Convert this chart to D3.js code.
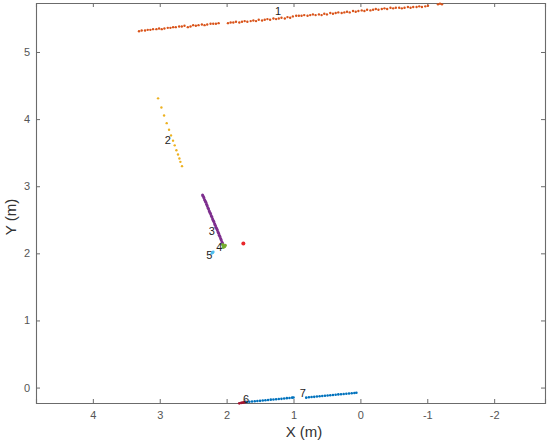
<!DOCTYPE html>
<html>
<head>
<meta charset="utf-8">
<script src="https://cdn.jsdelivr.net/npm/d3@7"></script>
<style>
  body { margin: 0; background: #fff; }
  svg { display: block; font-family: "Liberation Sans", Arial, sans-serif; }
</style>
</head>
<body>
<div id="chart"></div>
<script>
// DATA ===========================================
const xTicks = [4, 3, 2, 1, 0, -1, -2];
const yTicks = [0, 1, 2, 3, 4, 5];

// cluster 1 (orange)
const c1x = [3.31, 3.27, 3.22, 3.18, 3.14, 3.10, 3.05, 3.01, 2.97, 2.93, 2.88, 2.84, 2.80, 2.76, 2.71,
  2.67, 2.63, 2.58, 2.54, 2.50, 2.46, 2.42, 2.37, 2.33, 2.29, 2.24, 2.20, 2.16, 2.12,
  1.98, 1.94, 1.90, 1.86, 1.81, 1.77, 1.73, 1.69, 1.64, 1.60, 1.56, 1.52, 1.47, 1.43, 1.39, 1.35,
  1.30, 1.26, 1.22, 1.18, 1.13, 1.09, 1.05, 1.01, 0.96, 0.92, 0.88, 0.84, 0.79, 0.75, 0.71, 0.67,
  0.62, 0.58, 0.54, 0.50, 0.45, 0.41, 0.37, 0.33, 0.28, 0.24, 0.20, 0.16, 0.11, 0.07, 0.03,
  -0.02, -0.06, -0.10, -0.15, -0.19, -0.23, -0.27, -0.32, -0.36, -0.40, -0.45, -0.49, -0.53,
  -0.58, -0.62, -0.66, -0.71, -0.75, -0.79, -0.84, -0.88, -0.92, -0.97, -1.01, -1.16, -1.19, -1.22];
const c1y = [5.31, 5.32, 5.32, 5.33, 5.33, 5.34, 5.34, 5.35, 5.34, 5.35, 5.36, 5.36, 5.37, 5.37, 5.38,
  5.38, 5.39, 5.37, 5.38, 5.40, 5.39, 5.40, 5.41, 5.40, 5.41, 5.42, 5.42, 5.42, 5.43,
  5.43, 5.44, 5.44, 5.45, 5.44, 5.45, 5.46, 5.45, 5.46, 5.47, 5.46, 5.48, 5.47, 5.48, 5.49, 5.48,
  5.50, 5.49, 5.50, 5.51, 5.50, 5.52, 5.51, 5.53, 5.54, 5.54, 5.54, 5.55, 5.54, 5.55, 5.56, 5.55,
  5.56, 5.55, 5.57, 5.56, 5.58, 5.57, 5.58, 5.59, 5.58, 5.59, 5.60, 5.59, 5.61, 5.60, 5.61,
  5.62, 5.61, 5.63, 5.62, 5.63, 5.64, 5.63, 5.64, 5.65, 5.64, 5.66, 5.65, 5.66,
  5.66, 5.65, 5.66, 5.67, 5.66, 5.67, 5.67, 5.68, 5.67, 5.68, 5.69, 5.71, 5.72, 5.71];

// cluster 2 (yellow)
const c2x = [3.025, 2.975, 2.935, 2.896, 2.861, 2.831, 2.801, 2.776, 2.751, 2.727, 2.706, 2.691, 2.667];
const c2y = [4.309, 4.172, 4.053, 3.940, 3.842, 3.757, 3.679, 3.609, 3.536, 3.472, 3.413, 3.363, 3.299];

// cluster 3 (purple)
const c3x = [2.36, 2.35, 2.34, 2.33, 2.32, 2.31, 2.30, 2.29, 2.28, 2.27, 2.26, 2.25, 2.24, 2.23, 2.22, 2.21,
  2.20, 2.19, 2.18, 2.17, 2.16, 2.15, 2.14, 2.13, 2.12, 2.11, 2.10, 2.09, 2.08, 2.07, 2.06];
const c3y = [2.87, 2.85, 2.83, 2.80, 2.78, 2.76, 2.73, 2.71, 2.68, 2.66, 2.63, 2.61, 2.59, 2.56, 2.54, 2.51,
  2.49, 2.47, 2.44, 2.42, 2.39, 2.37, 2.35, 2.32, 2.30, 2.27, 2.25, 2.22, 2.20, 2.17, 2.15];

// cluster 4 (green)
const c4x = [2.06, 2.04, 2.03, 2.05, 2.02];
const c4y = [2.13, 2.11, 2.10, 2.09, 2.12];

// cluster 5 (light blue)
const c5x = [2.21, 2.20, 2.22];
const c5y = [2.01, 2.02, 2.00];

// cluster 6 (dark red)
const c6x = [1.81, 1.78, 1.76, 1.74, 1.72];
const c6y = [-0.235, -0.228, -0.225, -0.220, -0.215];

// cluster 7 (blue)
const c7x = [1.70, 1.66, 1.62, 1.58, 1.54, 1.50, 1.46, 1.42, 1.38, 1.34, 1.30, 1.26, 1.22, 1.18, 1.14, 1.10,
  1.06, 1.02, 1.00,
  0.81, 0.77, 0.73, 0.69, 0.65, 0.61, 0.57, 0.53, 0.49, 0.45, 0.41, 0.37, 0.33, 0.29, 0.25, 0.21,
  0.17, 0.13, 0.09, 0.06];
const c7y = [-0.215, -0.212, -0.208, -0.205, -0.200, -0.198, -0.192, -0.190, -0.186, -0.180, -0.178,
  -0.175, -0.170, -0.168, -0.163, -0.158, -0.155, -0.150, -0.148,
  -0.150, -0.145, -0.140, -0.138, -0.133, -0.130, -0.126, -0.122, -0.118, -0.115, -0.110, -0.106,
  -0.102, -0.100, -0.095, -0.092, -0.088, -0.084, -0.080, -0.078];

// single red marker
const markerX = [1.75];
const markerY = [2.145];

// cluster number labels
const labelText = ["1", "2", "3", "4", "5", "6", "7"];
const labelX = [1.23, 2.88, 2.22, 2.11, 2.26, 1.71, 0.86];
const labelY = [5.61, 3.69, 2.33, 2.09, 1.97, -0.17, -0.08];

// SETUP ==========================================
const width = 550, height = 440;
const margin = { top: 3, right: 5, bottom: 37, left: 36 };

const svg = d3.select("#chart")
  .append("svg")
  .attr("width", width)
  .attr("height", height);

const xScale = d3.scaleLinear()
  .domain([4.85, -2.76])
  .range([margin.left, width - margin.right]);

const yScale = d3.scaleLinear()
  .domain([-0.23, 5.73])
  .range([height - margin.bottom, margin.top]);

const axisColor = "#6b6b6b";
const fmt = d => String(d);

// AXES ===========================================
const gx = svg.append("g")
  .attr("transform", `translate(0, ${height - margin.bottom})`)
  .call(d3.axisBottom(xScale).tickValues(xTicks).tickSize(-4).tickPadding(8).tickFormat(fmt));

const gxTop = svg.append("g")
  .attr("transform", `translate(0, ${margin.top})`)
  .call(d3.axisTop(xScale).tickValues(xTicks).tickSize(-4).tickFormat(""));

const gy = svg.append("g")
  .attr("transform", `translate(${margin.left}, 0)`)
  .call(d3.axisLeft(yScale).tickValues(yTicks).tickSize(-4).tickPadding(6).tickFormat(fmt));

const gyRight = svg.append("g")
  .attr("transform", `translate(${width - margin.right}, 0)`)
  .call(d3.axisRight(yScale).tickValues(yTicks).tickSize(-4).tickFormat(""));

[gx, gxTop, gy, gyRight].forEach(g => {
  g.select(".domain").attr("stroke", axisColor).attr("stroke-width", 1.1);
  g.selectAll(".tick line").attr("stroke", axisColor);
  g.selectAll(".tick text")
    .attr("fill", "#555")
    .style("font-size", "11px")
    .style("font-family", "'Liberation Sans', Arial, sans-serif");
});

// axis titles
svg.append("text")
  .attr("x", 304)
  .attr("y", 437)
  .attr("text-anchor", "middle")
  .attr("fill", "#333")
  .style("font-size", "15px")
  .text("X (m)");

svg.append("text")
  .attr("transform", `translate(16, 217) rotate(-90)`)
  .attr("text-anchor", "middle")
  .attr("fill", "#333")
  .style("font-size", "15px")
  .text("Y (m)");

// POINTS =========================================
const clusters = [
  { xs: c1x, ys: c1y, color: "#D95319", r: 1.2 },
  { xs: c2x, ys: c2y, color: "#EDB120", r: 1.2 },
  { xs: c3x, ys: c3y, color: "#7E2F8E", r: 1.5 },
  { xs: c4x, ys: c4y, color: "#77AC30", r: 1.6 },
  { xs: c5x, ys: c5y, color: "#4DBEEE", r: 1.4 },
  { xs: c6x, ys: c6y, color: "#A2142F", r: 1.4 },
  { xs: c7x, ys: c7y, color: "#0072BD", r: 1.3 },
  { xs: markerX, ys: markerY, color: "#E8262A", r: 2 }
];

const plot = svg.append("g");

clusters.forEach(c => {
  const pts = c.xs.map((x, i) => [x, c.ys[i]]);
  plot.append("g")
    .selectAll("circle")
    .data(pts)
    .join("circle")
    .attr("cx", d => xScale(d[0]))
    .attr("cy", d => yScale(d[1]))
    .attr("r", c.r)
    .attr("fill", c.color);
});

// cluster labels
const labels = labelText.map((t, i) => ({ t, x: labelX[i], y: labelY[i] }));

svg.append("g")
  .selectAll("text")
  .data(labels)
  .join("text")
  .attr("x", d => xScale(d.x))
  .attr("y", d => yScale(d.y))
  .attr("text-anchor", "middle")
  .attr("dominant-baseline", "central")
  .attr("fill", "#222")
  .style("font-size", "11px")
  .text(d => d.t);
</script>
</body>
</html>
